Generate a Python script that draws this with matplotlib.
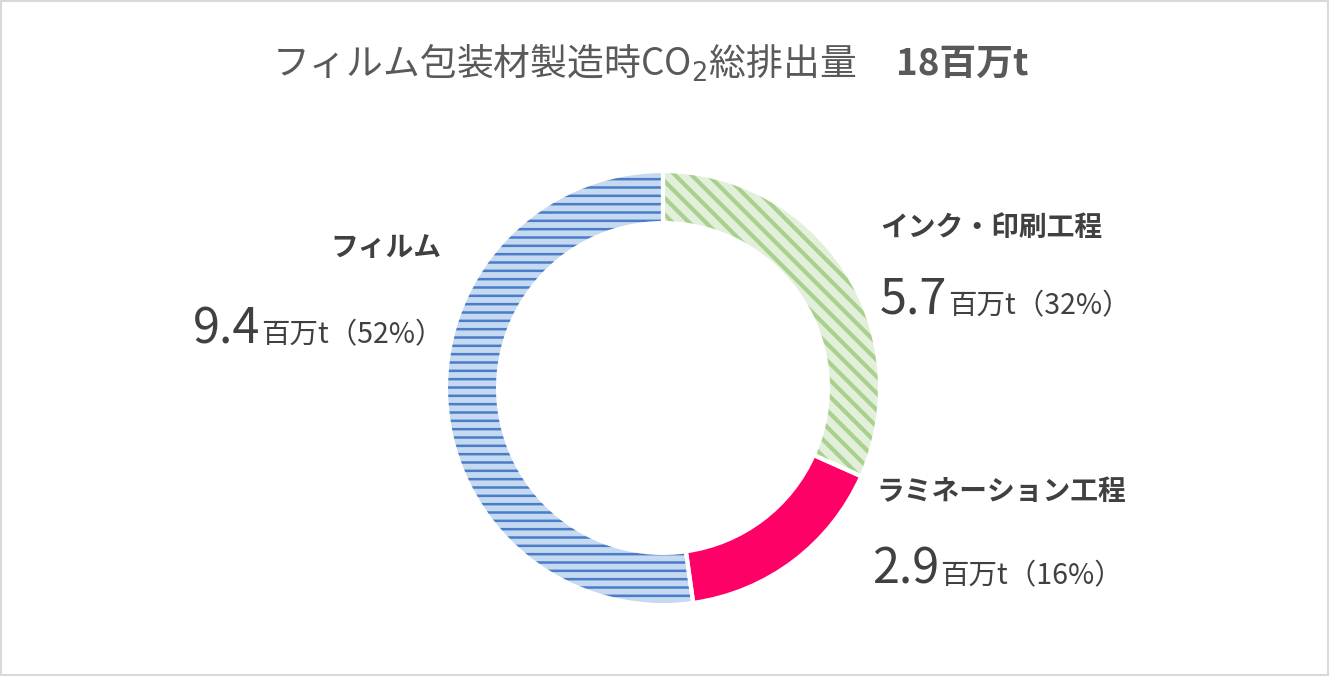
import matplotlib
matplotlib.use('Agg')
import matplotlib.pyplot as plt
from matplotlib.patches import Rectangle

plt.rcParams['font.family'] = ['Noto Sans CJK JP', 'DejaVu Sans']

# data
categories = ['インク・印刷工程', 'ラミネーション工程', 'フィルム']
values = [5.7, 2.9, 9.4]
shares = [32, 16, 52]
total_label = '18百万t'

face_colors = ['#e2efda', '#ff0066', '#c5d9f1']
hatch_colors = ['#a9d08e', '#ff0066', '#4a7cc8']
hatches = ['\\\\', '', '--']
hatch_widths = [3.0, 1.0, 1.8]

W, H = 1330, 677
fig = plt.figure(figsize=(W / 100, H / 100), dpi=100)

# background axes in pixel coords, for texts and frame
bg = fig.add_axes([0, 0, 1, 1])
bg.set_xlim(0, W)
bg.set_ylim(H, 0)
bg.axis('off')
bg.add_patch(Rectangle((1, 1), W - 3, H - 3, fill=False,
                       edgecolor='#d9d9d9', linewidth=1.5))

# donut axes
cx, cy, r = 663, 388, 217
ax = fig.add_axes([(cx - r) / W, (H - cy - r) / H, 2 * r / W, 2 * r / H])
wedges, _ = ax.pie(values, startangle=90, counterclock=False, radius=1,
                   wedgeprops=dict(width=0.24, linewidth=0))
for w, fc, hc, h, lw in zip(wedges, face_colors, hatch_colors, hatches, hatch_widths):
    w.set_facecolor(fc)
    w.set_edgecolor(hc)
    w.set_hatch(h)
    if hasattr(w, 'set_hatch_linewidth'):
        w.set_hatch_linewidth(lw)
# white gaps between wedges
ax.pie(values, startangle=90, counterclock=False, radius=1,
       wedgeprops=dict(width=0.24, linewidth=3, edgecolor='white',
                       facecolor='none'))
ax.set_xlim(-1, 1)
ax.set_ylim(-1, 1)
ax.set_aspect('equal')

# title
t1 = bg.text(272, 64, 'フィルム包装材製造時CO$_2$総排出量', fontsize=26.5,
             color='#595959', ha='left', va='center')
fig.canvas.draw()
ext = t1.get_window_extent()
bg.text(ext.x1 + 40, 64, total_label, fontsize=26.5, fontweight='bold',
        color='#595959', ha='left', va='center')

# labels
name_pos = [(880, 228, 'left'), (876, 492, 'left'), (441, 248, 'right')]
value_pos = [(880, 314), (872, 584), (193, 343)]

for name, v, s, (nx, ny, ha), (vx, vy) in zip(categories, values, shares,
                                              name_pos, value_pos):
    bg.text(nx, ny, name, fontsize=20, fontweight='bold', color='#404040',
            ha=ha, va='center')
    tn = bg.text(vx, vy, f'{v:.1f}', fontsize=35, color='#404040',
                 ha='left', va='baseline')
    fig.canvas.draw()
    e = tn.get_window_extent()
    x_end = bg.transData.inverted().transform((e.x1, 0))[0]
    bg.text(x_end + 1, vy, f'百万t（{s}%）', fontsize=20.5, color='#404040',
            ha='left', va='baseline')

fig.savefig('out.png', dpi=100)
